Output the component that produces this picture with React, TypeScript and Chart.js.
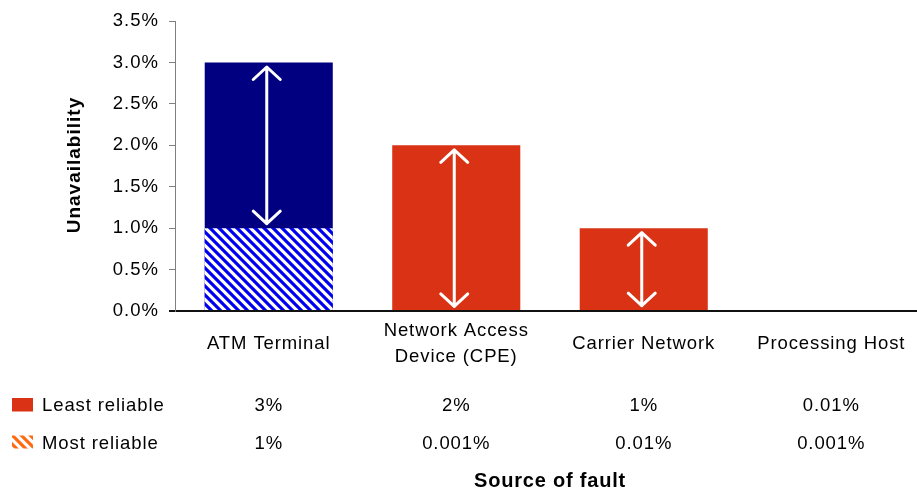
import React, { useEffect, useRef } from 'react';
import { Chart, registerables } from 'chart.js';

Chart.register(...registerables);

// ---- data ----
const categories: string[][] = [
  ['ATM Terminal'],
  ['Network Access', 'Device (CPE)'],
  ['Carrier Network'],
  ['Processing Host'],
];
const seriesNames = ['Least reliable', 'Most reliable'];
const leastReliable = [3, 2, 1, 0.01];
const mostReliable = [1, 0.001, 0.01, 0.001];
const yMin = 0;
const yMax = 3.5;
const yStep = 0.5;
const yTitle = 'Unavailability';
const xTitle = 'Source of fault';

const FONT = "'Liberation Sans', Arial, sans-serif";
const RED = '#D93215';
const NAVY = '#000080';
const BLUE = '#0000F0';
const ORANGE = '#FF6A10';

function makeHatch(base: CanvasRenderingContext2D, color: string) {
  const t = document.createElement('canvas');
  t.width = 9;
  t.height = 9;
  const c = t.getContext('2d')!;
  c.fillStyle = '#ffffff';
  c.fillRect(0, 0, 9, 9);
  c.strokeStyle = color;
  c.lineWidth = 3.2;
  c.beginPath();
  for (const x0 of [-9, 0, 9]) {
    c.moveTo(x0 - 3, -3);
    c.lineTo(x0 + 12, 12);
  }
  c.stroke();
  return base.createPattern(t, 'repeat')!;
}

function drawText(
  ctx: CanvasRenderingContext2D,
  s: string,
  x: number,
  y: number,
  font: string,
  align: CanvasTextAlign = 'center',
  spacing = '0.9px'
) {
  ctx.save();
  ctx.font = font;
  (ctx as any).letterSpacing = spacing;
  ctx.textAlign = align;
  ctx.textBaseline = 'alphabetic';
  ctx.fillStyle = '#000';
  ctx.fillText(s, x, y);
  ctx.restore();
}

// hide bars that are too thin to show (sub-pixel)
function visibleColor(colors: any[]) {
  return (c: any) => {
    const ys = c.chart.scales && c.chart.scales.y;
    const v = c.raw;
    if (ys && typeof v === 'number') {
      const h = Math.abs(ys.getPixelForValue(0) - ys.getPixelForValue(v));
      if (h < 1.5) return 'rgba(0,0,0,0)';
    }
    return colors[c.dataIndex];
  };
}

export default function App() {
  const ref = useRef<HTMLCanvasElement>(null);

  useEffect(() => {
    document.body.style.margin = '0';
    document.body.style.overflow = 'hidden';
    const canvas = ref.current!;
    const base = canvas.getContext('2d')!;
    const bluePat = makeHatch(base, BLUE);
    const orangePat = makeHatch(base, ORANGE);

    const overlay = {
      id: 'overlay',
      beforeDraw(chart: any) {
        (chart.ctx as any).letterSpacing = '1px';
      },
      afterDatasetsDraw(chart: any) {
        const ctx: CanvasRenderingContext2D = chart.ctx;
        const xs = chart.scales.x;
        const ys = chart.scales.y;
        ctx.save();
        ctx.strokeStyle = '#ffffff';
        ctx.lineWidth = 3;
        ctx.lineCap = 'round';
        ctx.lineJoin = 'round';
        for (let i = 0; i < categories.length; i++) {
          const x = xs.getPixelForValue(i) - 2;
          const yT = ys.getPixelForValue(leastReliable[i]) + 4.5;
          const yB = ys.getPixelForValue(mostReliable[i]) - 4.5;
          if (yB - yT < 30) continue;
          ctx.beginPath();
          ctx.moveTo(x, yT);
          ctx.lineTo(x, yB);
          ctx.moveTo(x - 13.5, yT + 12.5);
          ctx.lineTo(x, yT);
          ctx.lineTo(x + 13.5, yT + 12.5);
          ctx.moveTo(x - 13.5, yB - 12.5);
          ctx.lineTo(x, yB);
          ctx.lineTo(x + 13.5, yB - 12.5);
          ctx.stroke();
        }
        ctx.restore();
      },
      afterDraw(chart: any) {
        const ctx: CanvasRenderingContext2D = chart.ctx;
        (ctx as any).letterSpacing = '0px';
        const xs = chart.scales.x;
        const area = chart.chartArea;
        const fs = 18.5;
        const font = `${fs}px ${FONT}`;
        const capH = 0.716 * fs;
        const lineH = 25.5;
        const labelCenter = 342.5;

        // category labels
        categories.forEach((lines, i) => {
          const x = xs.getPixelForValue(i);
          const n = lines.length;
          lines.forEach((ln, k) => {
            const y = labelCenter + capH / 2 + (k - (n - 1) / 2) * lineH;
            drawText(ctx, ln, x, y, font);
          });
        });

        // data table
        const rows = [
          { name: seriesNames[0], values: leastReliable, y: 411 },
          { name: seriesNames[1], values: mostReliable, y: 448.5 },
        ];
        ctx.save();
        ctx.fillStyle = RED;
        ctx.fillRect(12, 398, 21, 13.5);
        ctx.fillStyle = orangePat;
        ctx.fillRect(12, 435.5, 21, 13);
        ctx.restore();
        rows.forEach((r) => {
          drawText(ctx, r.name, 42, r.y, font, 'left');
          r.values.forEach((v, i) => {
            drawText(ctx, String(v) + '%', xs.getPixelForValue(i), r.y, font);
          });
        });

        // x title
        drawText(
          ctx,
          xTitle,
          (area.left + area.right) / 2,
          487,
          `bold 20px ${FONT}`,
          'center',
          '0.8px'
        );

        // y title
        ctx.save();
        ctx.translate(80, (area.top + area.bottom) / 2 - 1);
        ctx.rotate(-Math.PI / 2);
        drawText(ctx, yTitle, 0, 0, `bold 19px ${FONT}`, 'center', '1px');
        ctx.restore();
      },
    };

    const chart = new Chart(canvas, {
      type: 'bar',
      data: {
        labels: categories,
        datasets: [
          {
            label: seriesNames[1],
            data: mostReliable,
            backgroundColor: visibleColor([bluePat, orangePat, orangePat, orangePat]),
            grouped: false,
            barPercentage: 0.683,
            categoryPercentage: 1,
            inflateAmount: 0,
            order: 0,
          } as any,
          {
            label: seriesNames[0],
            data: leastReliable,
            backgroundColor: visibleColor([NAVY, RED, RED, RED]),
            grouped: false,
            barPercentage: 0.683,
            categoryPercentage: 1,
            inflateAmount: 0,
            order: 1,
          } as any,
        ],
      },
      options: {
        animation: false,
        responsive: false,
        devicePixelRatio: 1,
        layout: { padding: { left: 0, top: 18, right: 5, bottom: 179 } },
        plugins: {
          legend: { display: false },
          tooltip: { enabled: false },
        },
        scales: {
          x: {
            ticks: { display: false },
            grid: { display: false, drawTicks: false },
            border: { color: '#111111', width: 2 },
            afterFit: (s: any) => {
              s.height = 0;
            },
          },
          y: {
            min: yMin,
            max: yMax,
            ticks: {
              stepSize: yStep,
              callback: (v: any) => Number(v).toFixed(1) + '%',
              font: { family: 'Liberation Sans', size: 18.5 },
              color: '#000000',
              padding: 10,
            },
            grid: {
              drawOnChartArea: false,
              drawTicks: true,
              tickLength: 6,
              color: (c: any) => (c.tick && c.tick.value === 0 ? '#111111' : '#7f7f7f'),
              lineWidth: (c: any) => (c.tick && c.tick.value === 0 ? 2 : 1),
            },
            border: { color: '#7f7f7f', width: 1 },
            afterFit: (s: any) => {
              s.width = 175;
            },
          },
        },
      } as any,
      plugins: [overlay],
    });

    return () => chart.destroy();
  }, []);

  return (
    <div
      style={{
        position: 'fixed',
        left: 0,
        top: 0,
        width: 917,
        height: 490,
        overflow: 'hidden',
        background: '#fff',
      }}
    >
      <canvas ref={ref} width={930} height={490} style={{ display: 'block', width: 930, height: 490 }} />
    </div>
  );
}
